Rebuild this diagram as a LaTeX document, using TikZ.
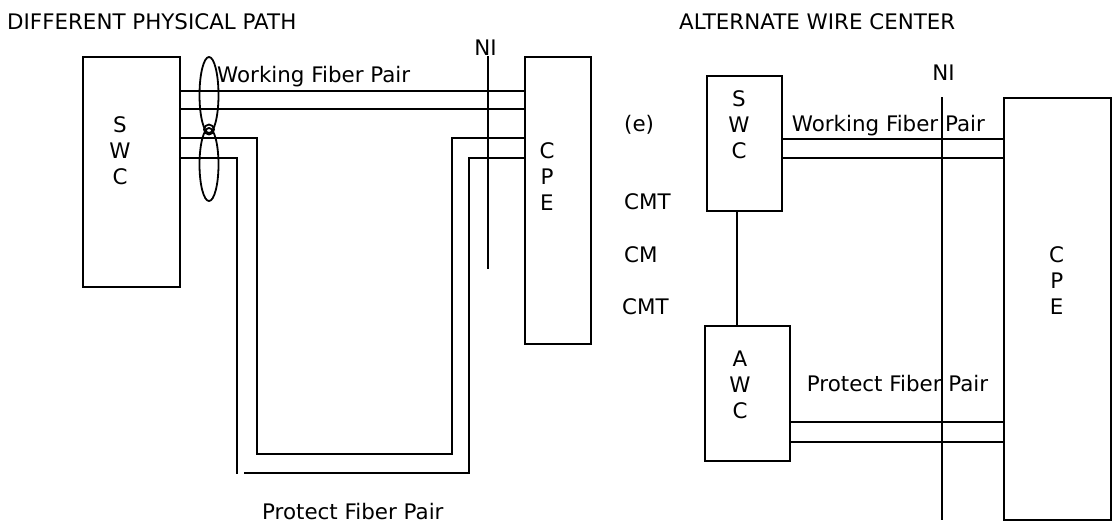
\documentclass[tikz,border=0pt]{standalone}
\usepackage{fontspec}
\setmainfont{DejaVu Sans}
\begin{document}
\begin{tikzpicture}[x=1pt,y=-1pt,
  every node/.style={font=\fontsize{21.4}{26}\selectfont, inner sep=0pt},
  wire/.style={line width=2pt, line cap=rect},
  boxn/.style={draw, line width=2pt, rectangle, inner sep=0pt},
  stack/.style={align=center, anchor=center},
  lbl/.style={anchor=base west},
  ring/.style={line width=1.8pt}]
\useasboundingbox (0,0) rectangle (1113,523);

% titles
\node[lbl] (t1) at (7,29.3) {DIFFERENT PHYSICAL PATH};
\node[lbl] (t2) at (679,29.3) {ALTERNATE WIRE CENTER};

% ---------- left diagram ----------
\node[boxn, minimum width=97pt, minimum height=230pt] (swcl) at (131.5,172) {};
\node[boxn, minimum width=66pt, minimum height=287pt] (cpel) at (558,200.5) {};
\node[stack] (swcltxt) at (120,151) {S\\W\\C};
\node[stack] (cpeltxt) at (547,177) {C\\P\\E};

\node[anchor=base] (nil) at (485.5,55) {NI};
\coordinate (nilt) at (488,57);
\coordinate (nilb) at (488,268);
\draw[wire] (nilt) -- (nilb);

\node[lbl] (wfpl) at (217,82) {Working Fiber Pair};
\node[lbl] (pfpl) at (262,519.5) {Protect Fiber Pair};

% working pair
\coordinate (wa) at (0,91);
\coordinate (wb) at (0,109);
\draw[wire] (swcl.east |- wa) -- (cpel.west |- wa);
\draw[wire] (swcl.east |- wb) -- (cpel.west |- wb);

% protect pair (inner)
\coordinate (pa) at (0,138);
\coordinate (pb) at (0,158);
\coordinate (i1) at (257,138);
\coordinate (i2) at (257,454);
\coordinate (i3) at (452,454);
\coordinate (i4) at (452,138);
\draw[wire] (swcl.east |- pa) -- (i1) -- (i2) -- (i3) -- (i4) -- (cpel.west |- pa);
% protect pair (outer)
\coordinate (o1) at (237,158);
\coordinate (o2) at (237,473);
\coordinate (o3) at (245,473);
\coordinate (o4) at (469,473);
\coordinate (o5) at (469,158);
\draw[wire] (swcl.east |- pb) -- (o1) -- (o2);
\draw[wire] (o3) -- (o4) -- (o5) -- (cpel.west |- pb);

% ellipses
\draw[ring] (209,95) ellipse [x radius=9.5, y radius=38];
\draw[ring] (209,164.5) ellipse [x radius=9.5, y radius=36.5];
\draw[ring] (209,129.5) circle [radius=5];

% middle labels
\node[lbl] (e) at (624,131) {(e)};
\node[lbl] (cmt1) at (624,209.5) {CMT};
\node[lbl] (cm) at (624,262.5) {CM};
\node[lbl] (cmt2) at (622,314.5) {CMT};

% ---------- right diagram ----------
\node[boxn, minimum width=75pt, minimum height=135pt] (swcr) at (744.5,143.5) {};
\node[boxn, minimum width=85pt, minimum height=135pt] (awcr) at (747.5,393.5) {};
\node[boxn, minimum width=107pt, minimum height=422pt] (cper) at (1057.5,309) {};
\node[stack] (swcrtxt) at (739,125) {S\\W\\C};
\node[stack] (awcrtxt) at (740,385) {A\\W\\C};
\node[stack] (cpertxt) at (1056.7,280.7) {C\\P\\E};

\node[anchor=base] (nir) at (943.5,80.7) {NI};
\coordinate (nirt) at (942,98);
\coordinate (nirb) at (942,519);
\draw[wire] (nirt) -- (nirb);

\node[lbl] (wfpr) at (791.7,131.7) {Working Fiber Pair};
\node[lbl] (pfpr) at (806.7,391.7) {Protect Fiber Pair};

\coordinate (rwa) at (0,139);
\coordinate (rwb) at (0,158);
\draw[wire] (swcr.east |- rwa) -- (cper.west |- rwa);
\draw[wire] (swcr.east |- rwb) -- (cper.west |- rwb);

\coordinate (rpa) at (0,422);
\coordinate (rpb) at (0,442);
\draw[wire] (awcr.east |- rpa) -- (cper.west |- rpa);
\draw[wire] (awcr.east |- rpb) -- (cper.west |- rpb);

\coordinate (vx) at (737,0);
\draw[wire] (swcr.south -| vx) -- (awcr.north -| vx);
\end{tikzpicture}
\end{document}
